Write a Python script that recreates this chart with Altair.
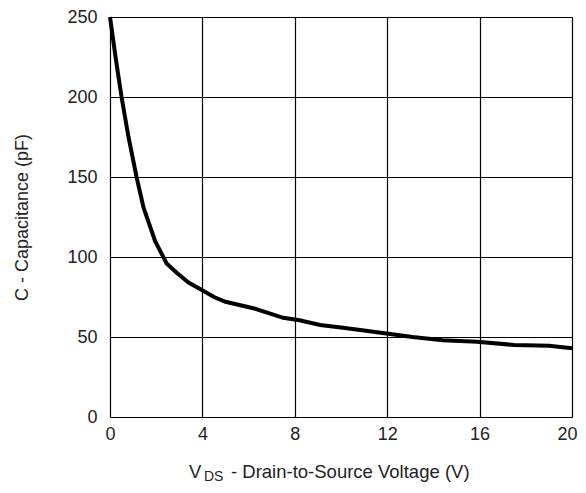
import altair as alt
import pandas as pd

vds = [0, 0.25, 0.5, 0.8, 1.15, 1.45, 1.95, 2.45, 2.9, 3.4, 3.9, 4.5, 5.0, 6.2, 7.5, 8.2, 9.1, 10.0, 11.0, 11.8, 13.1, 14.4, 15.9, 17.5, 19.0, 20.0]
cap = [250, 224, 200, 175, 150, 131, 110, 96, 90, 84, 80, 75, 72, 68, 62, 60.5, 57.5, 56, 54, 52.5, 50, 48, 47, 45, 44.5, 43]

df = pd.DataFrame({"vds": vds, "cap": cap})
one = pd.DataFrame({"k": [0]})

FONT = "Liberation Sans"
TXT = "#222"

x_enc = alt.X("vds:Q", scale=alt.Scale(domain=[0, 20], nice=False),
              axis=alt.Axis(values=[0, 4, 8, 12, 16, 20], title=None, tickSize=0,
                            labelPadding=8, labelFontSize=18, labelFont=FONT,
                            labelColor=TXT, grid=True, gridColor="#000",
                            gridWidth=1.2, domain=False, labelFlush=True,
                            labelFlushOffset=5))
y_enc = alt.Y("cap:Q", scale=alt.Scale(domain=[0, 250], nice=False),
              axis=alt.Axis(values=[0, 50, 100, 150, 200, 250], title="C - Capacitance (pF)",
                            titleFontSize=18, titleFont=FONT, titleFontWeight="normal",
                            titleColor=TXT, titlePadding=35, tickSize=0,
                            labelPadding=13, labelFontSize=18, labelFont=FONT,
                            labelColor=TXT, grid=True, gridColor="#000",
                            gridWidth=1.2, domain=False))

line = alt.Chart(df).mark_line(color="#000", strokeWidth=4).encode(x=x_enc, y=y_enc)

t_v = alt.Chart(one).mark_text(font=FONT, fontSize=18.5, color=TXT, align="left", baseline="alphabetic").encode(
    x=alt.value(79), y=alt.value(461), text=alt.value("V"))
t_ds = alt.Chart(one).mark_text(font=FONT, fontSize=14, color=TXT, align="left", baseline="alphabetic").encode(
    x=alt.value(94), y=alt.value(464), text=alt.value("DS"))
t_rest = alt.Chart(one).mark_text(font=FONT, fontSize=18.5, color=TXT, align="left", baseline="alphabetic").encode(
    x=alt.value(121), y=alt.value(461), text=alt.value("- Drain-to-Source Voltage (V)"))

chart = alt.layer(line, t_v, t_ds, t_rest).properties(
    width=462, height=400,
    autosize=alt.AutoSizeParams(type="none"),
    padding={"left": 102, "top": 9, "right": 6, "bottom": 68},
).configure_view(stroke="#000", strokeWidth=2.2).configure(background="white")

chart.save("out.html", embed_options={"renderer": "svg", "actions": False})
